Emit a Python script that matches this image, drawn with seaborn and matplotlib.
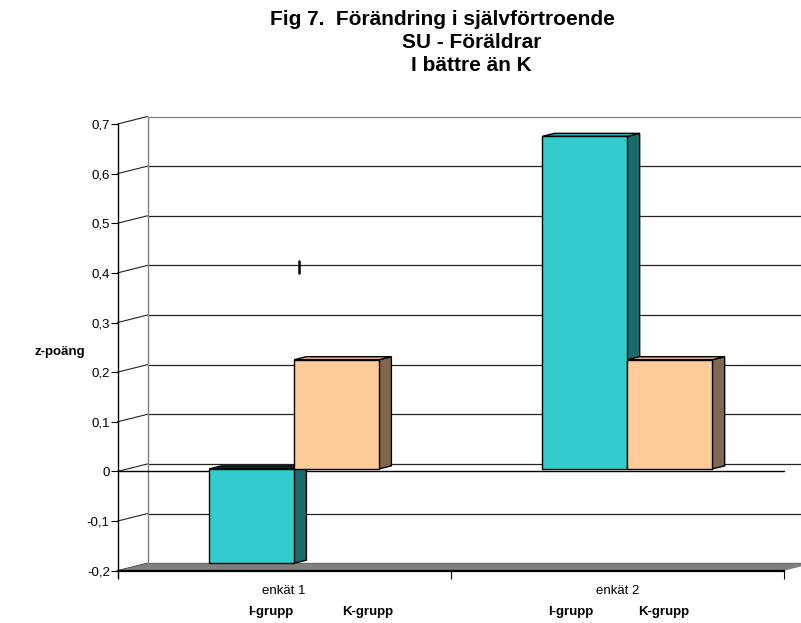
import matplotlib
matplotlib.use("Agg")
import matplotlib.pyplot as plt
import pandas as pd
import seaborn as sns
from matplotlib.patches import Polygon, Rectangle
from matplotlib.lines import Line2D
from matplotlib.transforms import ScaledTranslation, IdentityTransform, blended_transform_factory

# ---- data -------------------------------------------------------------
surveys = ["enkät 1", "enkät 2"]
groups = ["I-grupp", "K-grupp"]
i_grupp = [-0.19, 0.67]
k_grupp = [0.22, 0.22]
y_ticks = [-0.2, -0.1, 0.0, 0.1, 0.2, 0.3, 0.4, 0.5, 0.6, 0.7]
y_tick_labels = ["-0,2", "-0,1", "0", "0,1", "0,2", "0,3", "0,4", "0,5", "0,6", "0,7"]
title_lines = ["Fig 7.  Förändring i självförtroende", "SU - Föräldrar", "I bättre än K"]
y_label = "z-poäng"

df = pd.DataFrame({
    "enkät": surveys * 2,
    "grupp": [groups[0]] * len(surveys) + [groups[1]] * len(surveys),
    "z": i_grupp + k_grupp,
})

# ---- styling ------------------------------------------------------------
front_colors = {"I-grupp": "#33CCCC", "K-grupp": "#FFCC99"}
side_colors = {"I-grupp": "#1A6B6B", "K-grupp": "#80674D"}
top_colors = {"I-grupp": "#2BABAB", "K-grupp": "#D9AD82"}
top_neg_color = "#0A2A2A"

sns.set_theme(style="white")
plt.rcParams["font.family"] = ["Liberation Sans", "DejaVu Sans"]

W, H, DPI = 801, 623, 100
# pixel geometry of the front plane
AX_L, AX_R, AX_B, AX_T = 117.5, 784.0, 570.7, 124.0
# oblique depth offset of the back wall (pixels, right / up)
DX, DY = 30.0, 7.5
BAR_F = 1 / 3      # depth at which bar fronts sit
BAR_D = 0.41       # bar depth as a fraction of the wall depth

fig = plt.figure(figsize=(W / DPI, H / DPI), dpi=DPI)
fig.patch.set_facecolor("white")
ax = fig.add_axes([AX_L / W, (H - AX_B) / H, (AX_R - AX_L) / W, (AX_B - AX_T) / H])
ax.set_facecolor("none")

sns.barplot(data=df, x="enkät", y="z", hue="grupp", hue_order=groups,
            palette=front_colors, width=0.51, saturation=1, dodge=True,
            edgecolor="black", linewidth=1.0, legend=False, ax=ax, zorder=4)
bars = [p for p in ax.patches if isinstance(p, Rectangle) and p.get_width() > 0]

ax.set_xlim(-0.5, 1.5)
ax.set_ylim(-0.2, 0.7)


def proj(x, y, f=0.0):
    px, py = ax.transData.transform((x, y))
    return (px + DX * f, py + DY * f)


ident = IdentityTransform()


def line(p0, p1, color="black", lw=0.8, z=1):
    ax.add_line(Line2D([p0[0], p1[0]], [p0[1], p1[1]], color=color, lw=lw,
                       transform=ident, clip_on=False, zorder=z))


# back wall gridlines and side-wall diagonals
for v in y_ticks:
    col = "#808080" if v == y_ticks[-1] else "#222222"
    line(proj(-0.5, v, 1), proj(1.7, v, 1), color=col, lw=0.9)
    line(proj(-0.5, v, 0), proj(-0.5, v, 1), color="#222222", lw=0.8)
line(proj(-0.5, y_ticks[0], 1), proj(-0.5, y_ticks[-1], 1), color="#808080", lw=1.0)

# floor
floor = Polygon([proj(-0.5, -0.2, 0), proj(1.5, -0.2, 0), proj(1.5, -0.2, 1), proj(-0.5, -0.2, 1)],
                closed=True, facecolor="#808080", edgecolor="none",
                transform=ident, clip_on=False, zorder=1.5)
ax.add_patch(floor)

# zero plane front edge
line(proj(-0.5, 0, 0), proj(1.5, 0, 0), color="black", lw=1.0, z=2)

# stray tick mark on the back wall
ax.add_line(Line2D([0.045, 0.045], [0.400, 0.423], color="black", lw=1.8, zorder=2))

# bars: shift fronts into depth and add side / top faces
shift = ScaledTranslation(DX * BAR_F / DPI, DY * BAR_F / DPI, fig.dpi_scale_trans)
n = len(surveys)
for i, p in enumerate(bars):
    grp = groups[i // n]
    z = 4 + i // n
    p.set_transform(ax.transData + shift)
    p.set_zorder(z)
    x0, w = p.get_x(), p.get_width()
    y0, h = p.get_y(), p.get_height()
    bot, top = min(y0, y0 + h), max(y0, y0 + h)
    xr = x0 + w
    f0, f1 = BAR_F, BAR_F + BAR_D
    side = Polygon([proj(xr, bot, f0), proj(xr, bot, f1), proj(xr, top, f1), proj(xr, top, f0)],
                   closed=True, facecolor=side_colors[grp], edgecolor="black", lw=1.0,
                   transform=ident, clip_on=False, zorder=z - 0.1)
    tcol = top_neg_color if h < 0 else top_colors[grp]
    topf = Polygon([proj(x0, top, f0), proj(x0, top, f1), proj(xr, top, f1), proj(xr, top, f0)],
                   closed=True, facecolor=tcol, edgecolor="black", lw=1.0,
                   transform=ident, clip_on=False, zorder=z - 0.1)
    ax.add_patch(side)
    ax.add_patch(topf)

# axes, ticks and labels
for s in ["top", "right"]:
    ax.spines[s].set_visible(False)
ax.spines["left"].set_color("black")
ax.spines["left"].set_linewidth(1.0)
ax.spines["bottom"].set_color("black")
ax.spines["bottom"].set_linewidth(1.6)
ax.spines["bottom"].set_zorder(3)
p_bl = proj(-0.5, -0.2, 0)
line(p_bl, (p_bl[0], p_bl[1] - 7), lw=1.0, z=3)

ax.set_yticks(y_ticks)
ax.set_yticklabels(y_tick_labels)
ax.tick_params(axis="y", left=True, direction="out", length=5, width=0.8,
               color="black", labelsize=9.5, pad=0.5, labelcolor="black")
ax.set_xticks([-0.5, 0.5, 1.5])
ax.set_xticklabels([])
ax.set_xticks([0, 1], minor=True)
ax.set_xticklabels(surveys, minor=True)
ax.tick_params(axis="x", which="major", bottom=True, direction="out", length=6,
               width=0.8, color="black")
ax.tick_params(axis="x", which="minor", bottom=True, length=0, pad=10,
               labelsize=9.5, labelcolor="black")
ax.set_xlabel("")
ax.set_ylabel("")

fig.text(60 / W, 1 - 352 / H, y_label, ha="center", va="center",
         fontsize=9.5, fontweight="bold", color="black")

# group labels beneath each survey
group_label_x = [(-0.04, 0.25), (-0.14, 0.14)]
trans_lbl = blended_transform_factory(ax.transData, fig.transFigure)
for ci, offs in enumerate(group_label_x):
    for g, off in zip(groups, offs):
        ax.text(ci + off, 1 - 612 / H, g, transform=trans_lbl, ha="center", va="center",
                fontsize=9.5, fontweight="bold", color="black", clip_on=False)

# three-line title block
title_x = [442, 472, 471]
title_base = [25, 48, 71]
for t, tx, ty in zip(title_lines, title_x, title_base):
    fig.text(tx / W, 1 - ty / H, t, ha="center", va="baseline",
             fontsize=15, fontweight="bold", color="black")

fig.savefig("out.png", dpi=DPI, facecolor="white")
